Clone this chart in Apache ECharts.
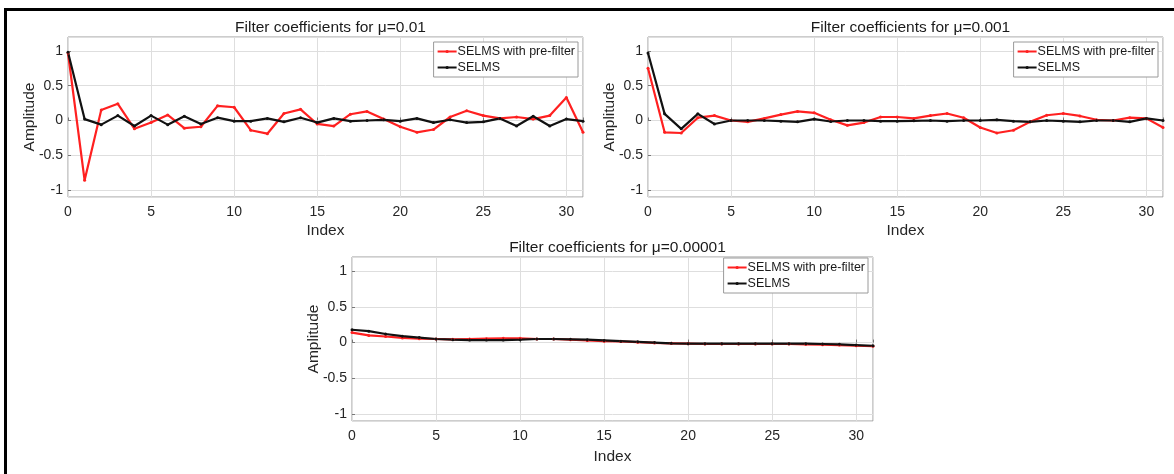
<!DOCTYPE html>
<html>
<head>
<meta charset="utf-8">
<script src="https://cdn.jsdelivr.net/npm/echarts@6/dist/echarts.min.js"></script>
<style>
html, body { margin: 0; padding: 0; background: #fff; }
#chart { width: 1174px; height: 474px; }
</style>
</head>
<body>
<div id="chart"></div>
<script>
// Filter taps (index 0..31)
var prefilterMu001 = [0.97, -0.86, 0.15, 0.24, -0.12, -0.03, 0.08, -0.11, -0.09, 0.21, 0.19, -0.14, -0.19, 0.10, 0.16, -0.05,
    -0.08, 0.09, 0.13, 0.02, -0.09, -0.17, -0.13, 0.05, 0.14, 0.07, 0.03, 0.05, 0.02, 0.07, 0.33, -0.17]
var selmsMu001 = [0.98, 0.02, -0.06, 0.07, -0.08, 0.07, -0.06, 0.06, -0.05, 0.04, -0.01, -0.01, 0.03, -0.02, 0.04, -0.03,
    0.03, -0.01, 0.00, 0.01, -0.01, 0.03, -0.03, 0.01, -0.03, -0.02, 0.03, -0.08, 0.06, -0.08, 0.02, -0.01]

var prefilterMu0001 = [0.75, -0.17, -0.18, 0.04, 0.07, 0.00, -0.02, 0.03, 0.085, 0.13, 0.11, 0.01, -0.07, -0.03, 0.05, 0.05,
    0.03, 0.07, 0.10, 0.04, -0.10, -0.18, -0.14, -0.02, 0.075, 0.10, 0.065, 0.01, 0.00, 0.04, 0.03, -0.10]
var selmsMu0001 = [0.97, 0.095, -0.12, 0.095, -0.05, 0.00, 0.00, 0.00, -0.01, -0.02, 0.02, -0.015, 0.00, 0.00, -0.01, -0.01,
    -0.005, 0.00, -0.01, 0.00, 0.00, 0.01, -0.01, -0.02, 0.00, -0.01, -0.02, 0.00, 0.00, -0.02, 0.03, 0.00]

var prefilterMu00001 = [0.14, 0.10, 0.085, 0.065, 0.055, 0.05, 0.045, 0.05, 0.055, 0.06, 0.06, 0.05, 0.05, 0.04, 0.03, 0.02,
    0.015, 0.005, -0.005, -0.01, -0.015, -0.02, -0.02, -0.02, -0.02, -0.02, -0.02, -0.025, -0.03, -0.035, -0.045, -0.05]
var selmsMu00001 = [0.18, 0.16, 0.12, 0.09, 0.07, 0.05, 0.04, 0.035, 0.035, 0.035, 0.04, 0.05, 0.05, 0.045, 0.04, 0.03,
    0.02, 0.01, 0.00, -0.01, -0.015, -0.015, -0.015, -0.015, -0.015, -0.015, -0.015, -0.015, -0.02, -0.025, -0.035, -0.045]

var panelTitles = ['Filter coefficients for \u03bc=0.01', 'Filter coefficients for \u03bc=0.001', 'Filter coefficients for \u03bc=0.00001']
var seriesNames = ['SELMS with pre-filter', 'SELMS']
var xTickStep = 5

var FONT = '"Liberation Sans", Arial, sans-serif'
var RED = '#ff2020'
var BLACK = '#111111'

// panel boxes (plot area) in px
var boxes = [
    { left: 68, top: 37, width: 515, height: 160 },
    { left: 648, top: 37, width: 515, height: 160 },
    { left: 352, top: 257, width: 521, height: 164 }
]
var panelData = [
    [prefilterMu001, selmsMu001],
    [prefilterMu0001, selmsMu0001],
    [prefilterMu00001, selmsMu00001]
]

function pairs(arr) {
    return arr.map(function (v, i) { return [i, v] })
}

var grids = [], xAxes = [], yAxes = [], series = [], titles = [], legends = []

boxes.forEach(function (b, p) {
    grids.push({
        left: b.left, top: b.top, width: b.width, height: b.height,
        show: true, borderColor: '#9a9a9a', borderWidth: 1, backgroundColor: '#fff'
    })
    xAxes.push({
        type: 'value', gridIndex: p, min: 0, max: 31, interval: xTickStep,
        name: 'Index', nameLocation: 'middle', nameGap: p == 2 ? 28 : 26,
        nameTextStyle: { fontFamily: FONT, fontSize: 15.5, color: '#262626' },
        axisLine: { show: false },
        axisTick: { show: true, inside: true, length: 3, lineStyle: { color: '#777' } },
        axisLabel: {
            fontFamily: FONT, fontSize: 14, color: '#262626', margin: 8,
            formatter: function (v) { return v % xTickStep === 0 ? String(v) : '' }
        },
        splitLine: { show: true, lineStyle: { color: '#dedede', width: 1 } }
    })
    yAxes.push({
        type: 'value', gridIndex: p, min: -1.1, max: 1.2,
        name: 'Amplitude', nameLocation: 'middle', nameGap: 30, nameRotate: 90,
        nameMoveOverlap: false,
        nameTextStyle: { fontFamily: FONT, fontSize: 15.5, color: '#262626' },
        axisLine: { show: false },
        axisTick: { show: true, inside: true, length: 3, lineStyle: { color: '#777' } },
        axisLabel: {
            fontFamily: FONT, fontSize: 14, color: '#262626', margin: 5,
            showMinLabel: false, showMaxLabel: false,
            formatter: function (v) {
                var r = Math.round(v * 2) / 2
                return Math.abs(v - r) < 1e-6 ? String(r) : ''
            }
        },
        splitLine: { show: true, lineStyle: { color: '#dedede', width: 1 } }
    })
    titles.push({
        text: panelTitles[p],
        left: b.left + b.width / 2, top: b.top - 22, textAlign: 'center',
        textStyle: { fontFamily: FONT, fontSize: 15.5, fontWeight: 'normal', color: '#1a1a1a' }
    })
    legends.push({
        data: seriesNames.map(function (n) { return { name: n } }),
        orient: 'vertical',
        right: 1174 - (b.left + b.width) + 5,
        top: p == 2 ? b.top + 1 : b.top + 5,
        itemWidth: 19, itemHeight: 4, itemGap: 3,
        padding: [3, 3, 3, 3],
        backgroundColor: '#fff', borderColor: '#9a9a9a', borderWidth: 1, borderRadius: 0,
        textStyle: { fontFamily: FONT, fontSize: 12.5, color: '#1a1a1a', padding: [0, 0, 0, -4] },
        selectedMode: false
    })
    var colors = [RED, BLACK]
    panelData[p].forEach(function (arr, s) {
        series.push({
            name: seriesNames[s], type: 'line',
            xAxisIndex: p, yAxisIndex: p,
            data: pairs(arr),
            symbol: 'circle', symbolSize: 3, showSymbol: true,
            itemStyle: { color: colors[s] },
            lineStyle: { color: colors[s], width: 2.2 },
            animation: false
        })
    })
})

var chart = echarts.init(document.getElementById('chart'), null, { renderer: 'canvas' })
chart.setOption({
    backgroundColor: '#fff',
    animation: false,
    title: titles,
    legend: legends,
    grid: grids,
    xAxis: xAxes,
    yAxis: yAxes,
    series: series,
    graphic: [
        // black frame edges of the original figure
        { type: 'rect', left: 4, top: 8, shape: { width: 1170, height: 3 }, style: { fill: '#000' } },
        { type: 'rect', left: 4, top: 8, shape: { width: 3, height: 466 }, style: { fill: '#000' } }
    ]
})
</script>
</body>
</html>
